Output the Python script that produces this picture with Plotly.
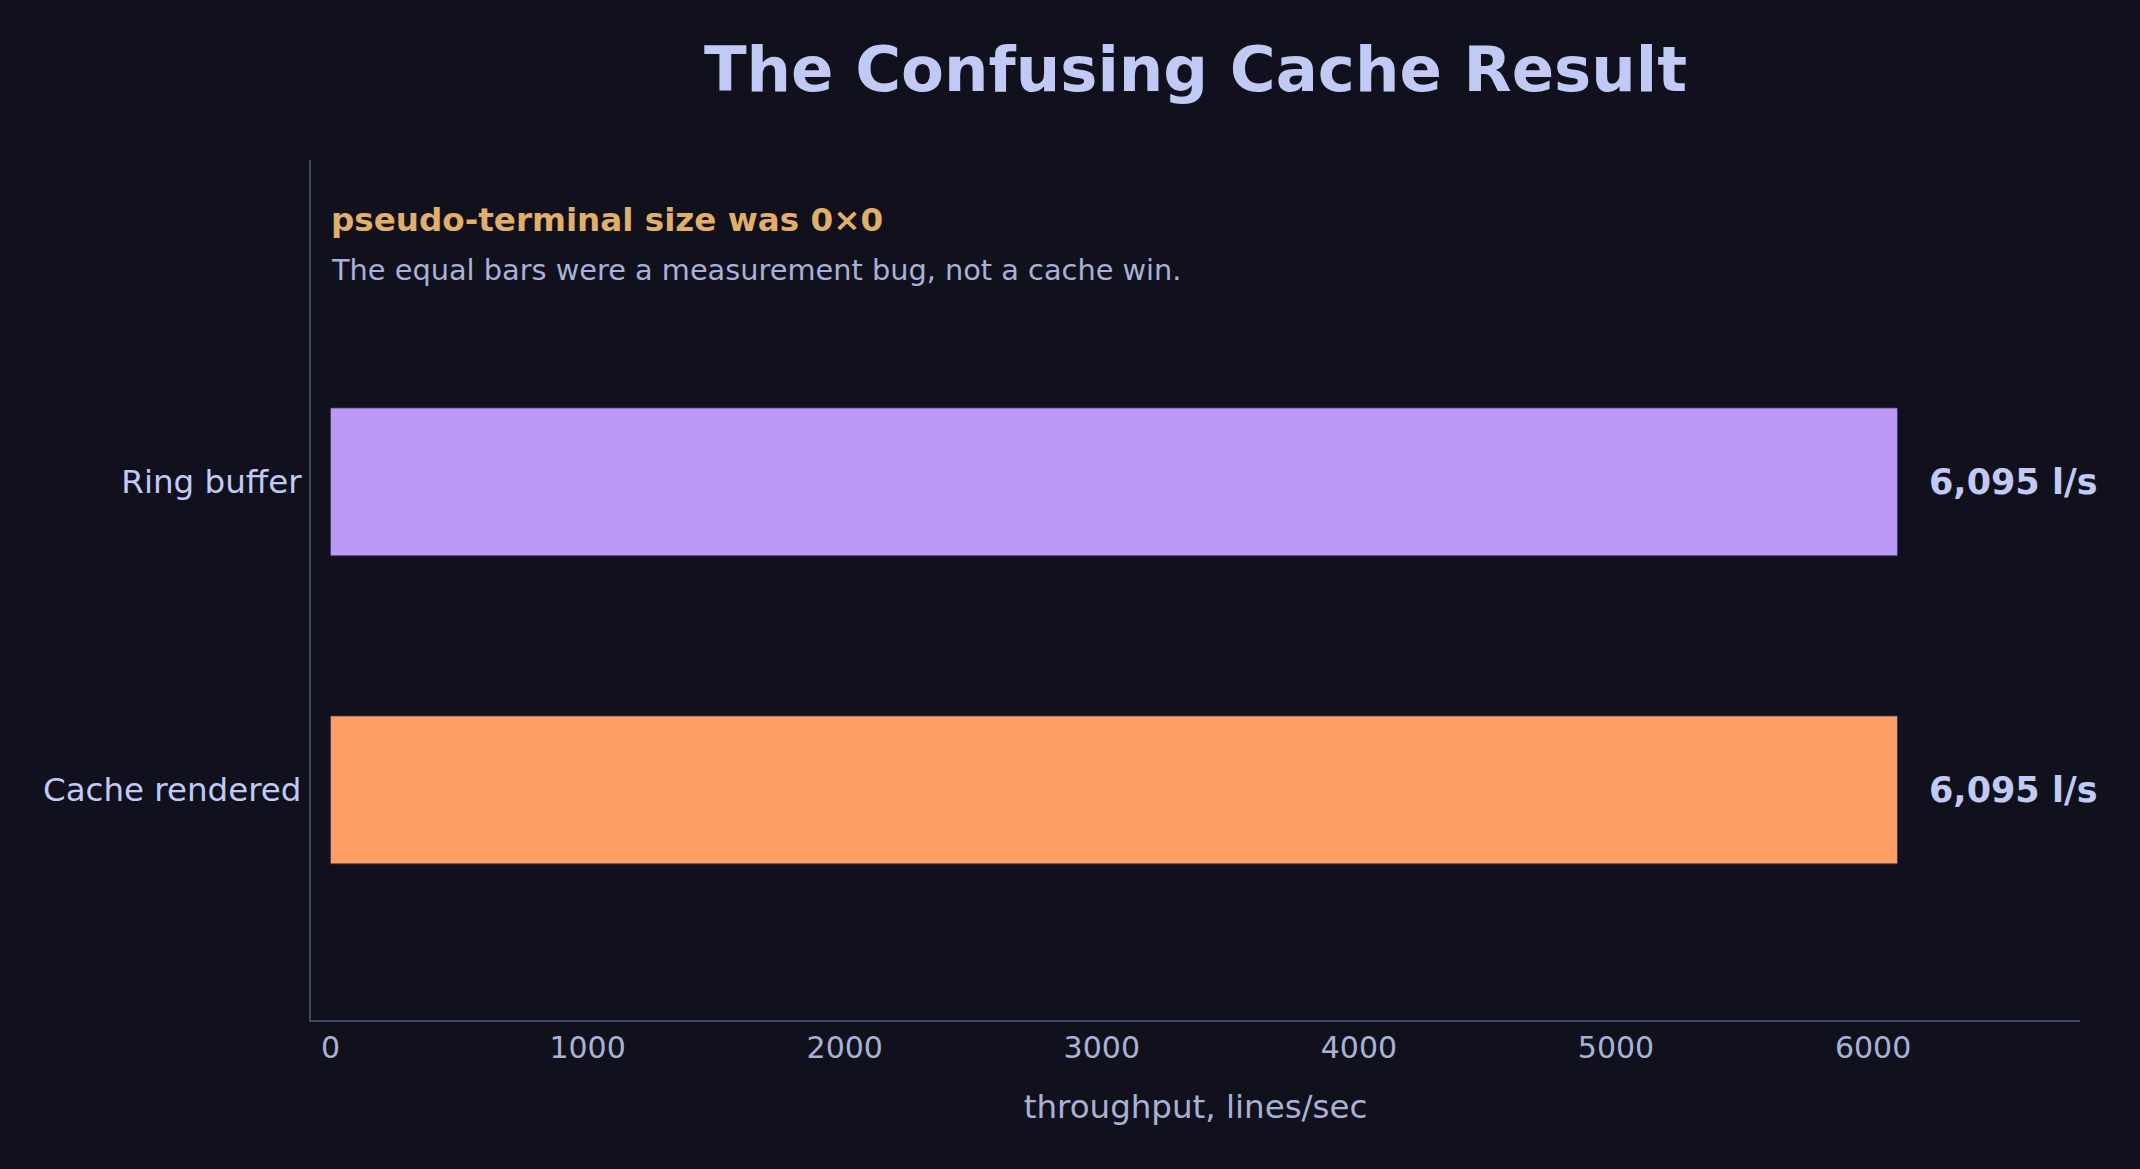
import plotly.graph_objects as go

categories = ["Cache rendered", "Ring buffer"]
throughput = [6095, 6095]
bar_colors = ["#ff9e64", "#bb9af7"]
value_labels = ["6,095 l/s", "6,095 l/s"]
x_ticks = [0, 1000, 2000, 3000, 4000, 5000, 6000]

BG = "#11111d"
FONT = "DejaVu Sans, Verdana, sans-serif"

fig = go.Figure()
fig.add_trace(go.Bar(
    y=categories,
    x=throughput,
    orientation="h",
    width=0.48,
    marker=dict(color=bar_colors, line=dict(color="rgba(60,60,90,0.8)", width=1)),
    hoverinfo="skip",
    showlegend=False,
))

for cat, val, lab in zip(categories, throughput, value_labels):
    fig.add_annotation(
        x=val, y=cat, xref="x", yref="y",
        text=f"<b>{lab}</b>", showarrow=False,
        xanchor="left", yanchor="middle", xshift=30,
        font=dict(family=FONT, size=35, color="#c0caf5"),
    )

fig.add_annotation(
    x=0, y=0.930, xref="x", yref="paper",
    text="<b>pseudo-terminal size was 0×0</b>", showarrow=False,
    xanchor="left", yanchor="middle", xshift=-2,
    font=dict(family=FONT, size=32.6, color="#e0af68"),
)
fig.add_annotation(
    x=0, y=0.872, xref="x", yref="paper",
    text="The equal bars were a measurement bug, not a cache win.", showarrow=False,
    xanchor="left", yanchor="middle", xshift=-2,
    font=dict(family=FONT, size=28.8, color="#a9b1d6"),
)

fig.update_layout(
    width=2140, height=1169,
    paper_bgcolor=BG, plot_bgcolor=BG,
    margin=dict(l=311, r=60, t=160, b=149),
    title=dict(
        text="<b>The Confusing Cache Result</b>",
        x=0.5, xref="paper", y=1 - 69 / 1169, yref="container",
        xanchor="center", yanchor="middle",
        font=dict(family=FONT, size=62.5, color="#c0caf5"),
    ),
    font=dict(family=FONT, color="#c0caf5"),
    bargap=0.52,
)
fig.update_xaxes(
    range=[-76, 6805],
    tickvals=x_ticks,
    ticktext=[str(t) for t in x_ticks],
    showgrid=False, zeroline=False,
    showline=True, linecolor="#414868", linewidth=2,
    ticks="",
    tickfont=dict(family=FONT, size=30, color="#a9b1d6"),
    title=dict(text="throughput, lines/sec", standoff=31,
               font=dict(family=FONT, size=32.5, color="#a9b1d6")),
)
fig.update_yaxes(
    type="category",
    categoryorder="array", categoryarray=categories,
    range=[-0.747, 2.045],
    showgrid=False, zeroline=False,
    showline=True, linecolor="#414868", linewidth=2,
    ticks="", ticklabelstandoff=1,
    tickfont=dict(family=FONT, size=32.5, color="#c0caf5"),
)

fig.write_html("out.html")
